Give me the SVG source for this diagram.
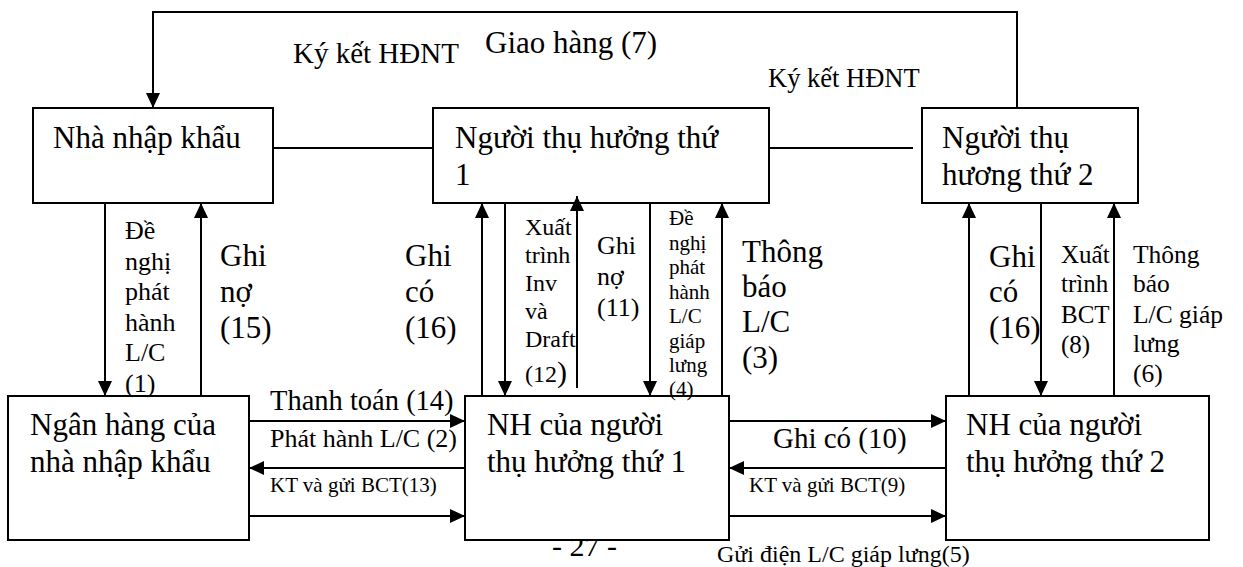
<svg xmlns="http://www.w3.org/2000/svg" width="1243" height="567" viewBox="0 0 1243 567">
<style>
text{font-family:"Liberation Serif","Times New Roman",serif;fill:#000}
.box{fill:#fff;stroke:#000;stroke-width:2}
.bt{font-size:31px}
.c{fill:none;stroke:#000;stroke-width:2}
</style>
<defs>
<marker id="ah" markerUnits="userSpaceOnUse" markerWidth="15" markerHeight="14" refX="15" refY="7" orient="auto">
<path d="M0,0 L15,7 L0,14 z" fill="#000"/>
</marker>
</defs>
<rect width="1243" height="567" fill="#fff"/>
<text id="page" x="552" y="556" font-size="30">- 27 -</text>

<g id="nha-nhap-khau">
<rect class="box" x="33" y="108" width="240" height="95"/>
<text class="bt" x="53" y="148">Nhà nhập khẩu</text>
</g>
<g id="nguoi-thu-huong-1">
<rect class="box" x="433" y="108" width="336" height="95"/>
<text class="bt" x="455" y="148">Người thụ hưởng thứ</text>
<text class="bt" x="455" y="185">1</text>
</g>
<g id="nguoi-thu-huong-2">
<rect class="box" x="922" y="108" width="216" height="95"/>
<text class="bt" x="942" y="148">Người thụ</text>
<text class="bt" x="942" y="185">hương thứ 2</text>
</g>
<g id="ngan-hang-nhap-khau">
<rect class="box" x="8" y="396" width="241" height="144"/>
<text class="bt" x="30" y="435">Ngân hàng của</text>
<text class="bt" x="30" y="472">nhà nhập khẩu</text>
</g>
<g id="nh-thu-huong-1">
<rect class="box" x="465" y="396" width="264" height="144"/>
<text class="bt" x="487" y="435">NH của người</text>
<text class="bt" x="487" y="472">thụ hưởng thứ 1</text>
</g>
<g id="nh-thu-huong-2">
<rect class="box" x="946" y="396" width="263" height="144"/>
<text class="bt" x="966" y="435">NH của người</text>
<text class="bt" x="966" y="472">thụ hưởng thứ 2</text>
</g>

<g id="connectors">
<path class="c" d="M1017,108 V12 H153 V108" marker-end="url(#ah)"/>
<path class="c" d="M273,148 H433"/>
<path class="c" d="M769,148 H913"/>
<path class="c" d="M105,203 V396" marker-end="url(#ah)"/>
<path class="c" d="M201,396 V203" marker-end="url(#ah)"/>
<path class="c" d="M482,396 V203" marker-end="url(#ah)"/>
<path class="c" d="M505,203 V396" marker-end="url(#ah)"/>
<path class="c" d="M577,388 V196" marker-end="url(#ah)"/>
<path class="c" d="M650,203 V396" marker-end="url(#ah)"/>
<path class="c" d="M722,396 V203" marker-end="url(#ah)"/>
<path class="c" d="M969,396 V203" marker-end="url(#ah)"/>
<path class="c" d="M1041,203 V396" marker-end="url(#ah)"/>
<path class="c" d="M1114,396 V203" marker-end="url(#ah)"/>
<path class="c" d="M249,421 H465" marker-end="url(#ah)"/>
<path class="c" d="M465,468 H249" marker-end="url(#ah)"/>
<path class="c" d="M249,516 H465" marker-end="url(#ah)"/>
<path class="c" d="M729,421 H946" marker-end="url(#ah)"/>
<path class="c" d="M946,468 H729" marker-end="url(#ah)"/>
<path class="c" d="M729,516 H946" marker-end="url(#ah)"/>

<text x="293" y="63" font-size="29">Ký kết HĐNT</text>
<text x="485" y="53" font-size="31">Giao hàng (7)</text>
<text x="768" y="87" font-size="26.5">Ký kết HĐNT</text>

<text font-size="26"><tspan x="125" y="239">Đề</tspan><tspan x="125" y="270">nghị</tspan><tspan x="125" y="300">phát</tspan><tspan x="125" y="331">hành</tspan><tspan x="125" y="361">L/C</tspan><tspan x="125" y="392">(1)</tspan></text>
<text font-size="31"><tspan x="220" y="266">Ghi</tspan><tspan x="220" y="302">nợ</tspan><tspan x="220" y="338">(15)</tspan></text>
<text font-size="31"><tspan x="405" y="266">Ghi</tspan><tspan x="405" y="302">có</tspan><tspan x="405" y="338">(16)</tspan></text>
<text font-size="24"><tspan x="525" y="235">Xuất</tspan><tspan x="525" y="263">trình</tspan><tspan x="525" y="291">Inv</tspan><tspan x="525" y="319">và</tspan><tspan x="525" y="347">Draft</tspan><tspan x="525" y="382">(12</tspan><tspan font-size="30">)</tspan></text>
<text font-size="26"><tspan x="597" y="254">Ghi</tspan><tspan x="597" y="285">nợ</tspan><tspan x="597" y="316">(11)</tspan></text>
<text font-size="21"><tspan x="669" y="225">Đề</tspan><tspan x="669" y="250">nghị</tspan><tspan x="669" y="274">phát</tspan><tspan x="669" y="299">hành</tspan><tspan x="669" y="323">L/C</tspan><tspan x="669" y="348">giáp</tspan><tspan x="669" y="372">lưng</tspan><tspan x="669" y="396">(4)</tspan></text>
<text font-size="31"><tspan x="742" y="262">Thông</tspan><tspan x="742" y="297">báo</tspan><tspan x="742" y="332">L/C</tspan><tspan x="742" y="368">(3)</tspan></text>
<text font-size="31"><tspan x="989" y="267">Ghi</tspan><tspan x="989" y="302">có</tspan><tspan x="989" y="338">(16)</tspan></text>
<text font-size="25"><tspan x="1061" y="263">Xuất</tspan><tspan x="1061" y="292">trình</tspan><tspan x="1061" y="323">BCT</tspan><tspan x="1061" y="353">(8)</tspan></text>
<text font-size="25.5"><tspan x="1133" y="263">Thông</tspan><tspan x="1133" y="292">báo</tspan><tspan x="1133" y="323">L/C giáp</tspan><tspan x="1133" y="352">lưng</tspan><tspan x="1133" y="382">(6)</tspan></text>

<text x="270" y="410" font-size="28.5">Thanh toán (14)</text>
<text x="270" y="447" font-size="26">Phát hành L/C (2)</text>
<text x="270" y="492" font-size="21">KT và gửi BCT(13)</text>
<text x="773" y="448" font-size="29">Ghi có (10)</text>
<text x="749" y="492" font-size="21">KT và gửi BCT(9)</text>
<text x="717" y="562" font-size="24">Gửi điện L/C giáp lưng(5)</text>
</g>
</svg>
